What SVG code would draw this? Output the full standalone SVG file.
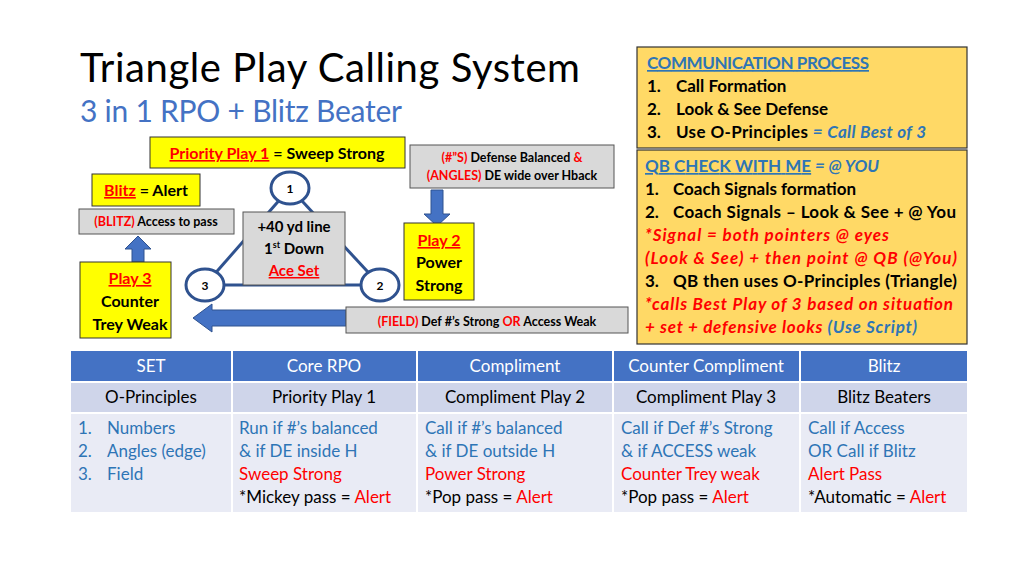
<svg xmlns="http://www.w3.org/2000/svg" width="1024" height="576" viewBox="0 0 1024 576">
<defs>
<style>
text{font-family:Lato,"Open Sans","Liberation Sans",sans-serif;font-weight:bold;fill:#000}
.t{font-weight:normal}
.b{fill:#2E75B6}.r{fill:#FF0000}.bl{fill:#4472C4}
.u{text-decoration:underline}
.i{font-style:italic}
.y{fill:#FFFF00;stroke:#333;stroke-width:1}
.g{fill:#D9D9D9;stroke:#555;stroke-width:1}
.o{fill:#FFD966;stroke:#333;stroke-width:1.2}
.c{fill:#fff;stroke:#2F528F;stroke-width:3}
.m{text-anchor:middle}
.h{fill:#fff;font-weight:normal}
.tb{font-weight:normal;font-size:17px}
</style>
</defs>
<rect width="1024" height="576" fill="#fff"/>
<text x="80" y="82" class="t" font-size="40" textLength="500">Triangle Play Calling System</text>
<text x="80" y="122" class="t bl" font-size="30" textLength="322">3 in 1 RPO + Blitz Beater</text>

<g id="comm">
<rect class="o" x="637" y="47" width="330" height="101"/>
<g font-size="17">
<text x="647" y="69" class="b u" textLength="222">COMMUNICATION PROCESS</text>
<text x="647" y="92">1.</text><text x="676" y="92">Call Formation</text>
<text x="647" y="115">2.</text><text x="676" y="115">Look &amp; See Defense</text>
<text x="647" y="138">3.</text><text x="676" y="138" textLength="250">Use O-Principles <tspan class="b i">= Call Best of 3</tspan></text>
</g></g>
<g id="qb">
<rect class="o" x="637" y="150" width="330" height="194"/>
<g font-size="17">
<text x="645" y="172" class="b" textLength="234"><tspan class="u">QB CHECK WITH ME</tspan><tspan class="i"> = @ YOU</tspan></text>
<text x="645" y="195">1.</text><text x="673" y="195">Coach Signals formation</text>
<text x="645" y="218">2.</text><text x="673" y="218" textLength="283">Coach Signals – Look &amp; See + @ You</text>
<text x="645" y="241" class="r i" textLength="244">*Signal = both pointers @ eyes</text>
<text x="645" y="264" class="r i" textLength="312">(Look &amp; See) + then point @ QB (@You)</text>
<text x="645" y="287">3.</text><text x="673" y="287" textLength="284">QB then uses O-Principles (Triangle)</text>
<text x="645" y="310" class="r i" textLength="308">*calls Best Play of 3 based on situation</text>
<text x="645" y="333" class="r i" textLength="272">+ set + defensive looks <tspan class="b">(Use Script)</tspan></text>
</g></g>

<g id="connectors" fill="#4472C4" stroke="#2F528F" stroke-width="1">
<line x1="290" y1="188" x2="205" y2="285" stroke-width="3"/>
<line x1="290" y1="188" x2="380" y2="285" stroke-width="3"/>
<line x1="205" y1="285" x2="380" y2="285" stroke-width="3"/>
<polygon points="431,190 443,190 443,214 450,214 437,226 424,214 431,214"/>
<polygon points="132,262 144,262 144,249 151,249 138,236 125,249 132,249"/>
<polygon points="346,310 212,310 212,304 193,318 212,332 212,326 346,326"/>
</g>

<g id="priority"><rect class="y" x="150" y="137" width="255" height="31"/>
<text x="277" y="159" class="m" font-size="16"><tspan class="r u">Priority Play 1</tspan> = Sweep Strong</text></g>
<g id="defense"><rect class="g" x="410" y="145" width="204" height="43"/>
<text x="512" y="162" class="m" font-size="12.5"><tspan class="r">(#”S)</tspan> Defense Balanced <tspan class="r">&amp;</tspan></text>
<text x="512" y="180" class="m" font-size="12.5"><tspan class="r">(ANGLES)</tspan> DE wide over Hback</text></g>
<g id="blitz"><rect class="y" x="92" y="174" width="108" height="32"/>
<text x="146" y="196" class="m" font-size="16"><tspan class="r u">Blitz</tspan> = Alert</text></g>
<g id="blitzaccess"><rect class="g" x="79" y="209" width="155" height="25"/>
<text x="156" y="226" class="m" font-size="12.5"><tspan class="r">(BLITZ)</tspan> Access to pass</text></g>
<g id="center"><rect class="g" x="243" y="212" width="102" height="73"/>
<text x="294" y="232" class="m" font-size="15">+40 yd line</text>
<text x="294" y="254" class="m" font-size="15">1<tspan font-size="9" dy="-6">st</tspan><tspan dy="6"> Down</tspan></text>
<text x="294" y="276" class="m r u" font-size="15">Ace Set</text></g>
<g id="n1"><ellipse class="c" cx="290" cy="188" rx="19" ry="16"/><text x="290" y="193" class="m" font-size="12">1</text></g>
<g id="n3"><ellipse class="c" cx="205" cy="285" rx="19" ry="16"/><text x="205" y="290" class="m" font-size="12">3</text></g>
<g id="n2"><ellipse class="c" cx="380" cy="285" rx="19" ry="16"/><text x="380" y="290" class="m" font-size="12">2</text></g>
<g id="play2"><rect class="y" x="404" y="223" width="70" height="77"/>
<text x="439" y="246" class="m r u" font-size="16">Play 2</text>
<text x="439" y="268" class="m" font-size="16">Power</text>
<text x="439" y="291" class="m" font-size="16">Strong</text></g>
<g id="play3"><rect class="y" x="80" y="262" width="91" height="76"/>
<text x="130" y="284" class="m r u" font-size="16">Play 3</text>
<text x="130" y="307" class="m" font-size="16">Counter</text>
<text x="130" y="330" class="m" font-size="16">Trey Weak</text></g>
<g id="field"><rect class="g" x="346" y="307" width="282" height="26"/>
<text x="487" y="326" class="m" font-size="12.5"><tspan class="r">(FIELD)</tspan> Def #’s Strong <tspan class="r">OR</tspan> Access Weak</text></g>

<g id="table">
<g fill="#4472C4"><rect x="71" y="351" width="160" height="30"/><rect x="233" y="351" width="183" height="30"/><rect x="418" y="351" width="194" height="30"/><rect x="614" y="351" width="185" height="30"/><rect x="801" y="351" width="166" height="30"/></g>
<g fill="#CFD5EA"><rect x="71" y="383" width="160" height="29"/><rect x="233" y="383" width="183" height="29"/><rect x="418" y="383" width="194" height="29"/><rect x="614" y="383" width="185" height="29"/><rect x="801" y="383" width="166" height="29"/></g>
<g fill="#E9EBF5"><rect x="71" y="414" width="160" height="98"/><rect x="233" y="414" width="183" height="98"/><rect x="418" y="414" width="194" height="98"/><rect x="614" y="414" width="185" height="98"/><rect x="801" y="414" width="166" height="98"/></g>
<g class="tb">
<text x="151" y="372" class="m h">SET</text><text x="324" y="372" class="m h">Core RPO</text><text x="515" y="372" class="m h">Compliment</text><text x="706" y="372" class="m h">Counter Compliment</text><text x="884" y="372" class="m h">Blitz</text>
<text x="151" y="403" class="m t">O-Principles</text><text x="324" y="403" class="m t">Priority Play 1</text><text x="515" y="403" class="m t">Compliment Play 2</text><text x="706" y="403" class="m t">Compliment Play 3</text><text x="884" y="403" class="m t">Blitz Beaters</text>
<text x="78" y="434" class="b t">1.</text><text x="107" y="434" class="b t">Numbers</text>
<text x="78" y="457" class="b t">2.</text><text x="107" y="457" class="b t">Angles (edge)</text>
<text x="78" y="480" class="b t">3.</text><text x="107" y="480" class="b t">Field</text>
<text x="239" y="434" class="b t">Run if #’s balanced</text><text x="239" y="457" class="b t">&amp; if DE inside H</text><text x="239" y="480" class="r t">Sweep Strong</text><text x="239" y="503" class="t">*Mickey pass = <tspan class="r">Alert</tspan></text>
<text x="425" y="434" class="b t">Call if #’s balanced</text><text x="425" y="457" class="b t">&amp; if DE outside H</text><text x="425" y="480" class="r t">Power Strong</text><text x="425" y="503" class="t">*Pop pass = <tspan class="r">Alert</tspan></text>
<text x="621" y="434" class="b t">Call if Def #’s Strong</text><text x="621" y="457" class="b t">&amp; if ACCESS weak</text><text x="621" y="480" class="r t">Counter Trey weak</text><text x="621" y="503" class="t">*Pop pass = <tspan class="r">Alert</tspan></text>
<text x="808" y="434" class="b t">Call if Access</text><text x="808" y="457" class="b t">OR Call if Blitz</text><text x="808" y="480" class="r t">Alert Pass</text><text x="808" y="503" class="t">*Automatic = <tspan class="r">Alert</tspan></text>
</g></g>
</svg>
